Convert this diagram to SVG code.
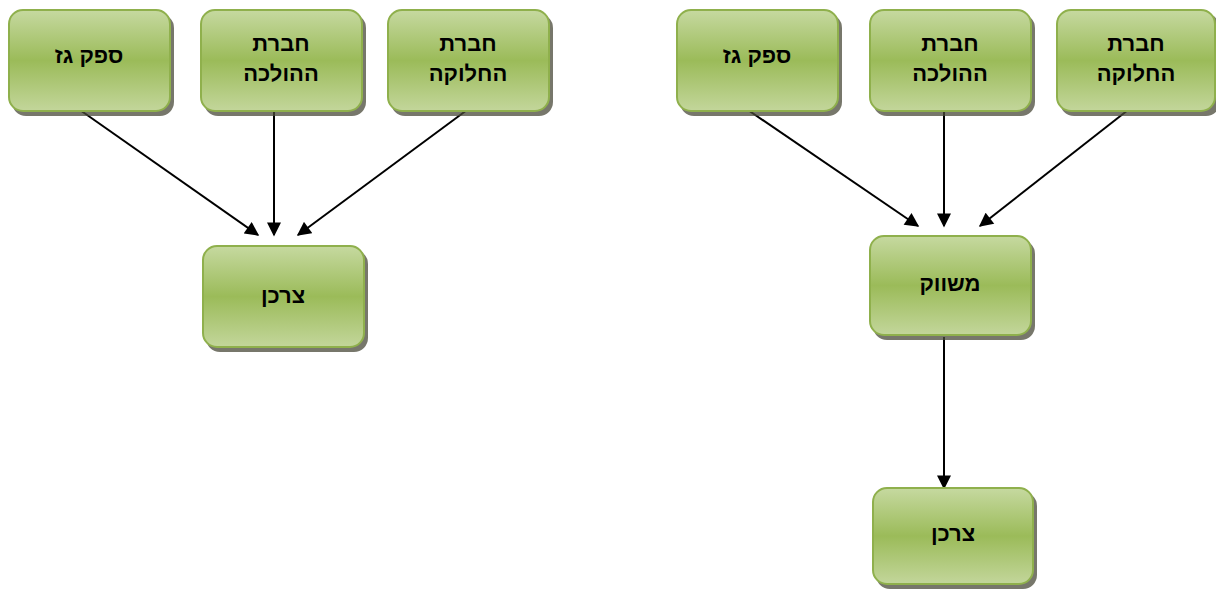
<svg xmlns="http://www.w3.org/2000/svg" width="1216" height="591" viewBox="0 0 1216 591">
<defs>
<linearGradient id="g" x1="0" y1="0" x2="0" y2="1">
<stop offset="0" stop-color="#c6d9a0"/>
<stop offset="0.5" stop-color="#9bbb59"/>
<stop offset="1" stop-color="#c3d69b"/>
</linearGradient>
<marker id="ah" viewBox="0 0 10 10" refX="9" refY="5" markerWidth="7.5" markerHeight="7" orient="auto" markerUnits="strokeWidth">
<path d="M0,0 L10,5 L0,10 z" fill="#000"/>
</marker>
</defs>
<style>
.sh{fill:#4a4a3a;opacity:0.75}
.bx{fill:url(#g);stroke:#8fb04c;stroke-width:2}
.t{font-family:"Liberation Sans","DejaVu Sans",Arial,sans-serif;font-weight:bold;font-size:22px;fill:#000;text-anchor:middle;direction:rtl}
.c{stroke:#000;stroke-width:2;fill:none;marker-end:url(#ah)}
</style>
<rect width="1216" height="591" fill="#fff"/>
<g id="connectors">
<line class="c" x1="80" y1="110" x2="258" y2="235"/>
<line class="c" x1="274" y1="112" x2="274" y2="235"/>
<line class="c" x1="467" y1="110" x2="298" y2="235"/>
<line class="c" x1="748" y1="110" x2="918" y2="226"/>
<line class="c" x1="944" y1="110" x2="944" y2="226"/>
<line class="c" x1="1128" y1="110" x2="980" y2="226"/>
<line class="c" x1="944" y1="337" x2="944" y2="488"/>
</g>
<g id="n1">
<rect class="sh" x="12" y="14" width="162" height="102" rx="14"/>
<rect class="bx" x="9" y="10" width="161" height="101" rx="14"/>
<text class="t" x="89" y="63">ספק גז</text>
</g>
<g id="n2">
<rect class="sh" x="204" y="14" width="162" height="102" rx="14"/>
<rect class="bx" x="201" y="10" width="161" height="101" rx="14"/>
<text class="t" x="281" y="51">חברת</text>
<text class="t" x="281" y="81">ההולכה</text>
</g>
<g id="n3">
<rect class="sh" x="391" y="14" width="162" height="102" rx="14"/>
<rect class="bx" x="388" y="10" width="161" height="101" rx="14"/>
<text class="t" x="468" y="51">חברת</text>
<text class="t" x="468" y="81">החלוקה</text>
</g>
<g id="n4">
<rect class="sh" x="206" y="250" width="162" height="102" rx="14"/>
<rect class="bx" x="203" y="246" width="161" height="101" rx="14"/>
<text class="t" x="283" y="303">צרכן</text>
</g>
<g id="n5">
<rect class="sh" x="680" y="14" width="162" height="102" rx="14"/>
<rect class="bx" x="677" y="10" width="161" height="101" rx="14"/>
<text class="t" x="757" y="63">ספק גז</text>
</g>
<g id="n6">
<rect class="sh" x="873" y="14" width="162" height="102" rx="14"/>
<rect class="bx" x="870" y="10" width="161" height="101" rx="14"/>
<text class="t" x="950" y="51">חברת</text>
<text class="t" x="950" y="81">ההולכה</text>
</g>
<g id="n7">
<rect class="sh" x="1060" y="14" width="160" height="102" rx="14"/>
<rect class="bx" x="1057" y="10" width="158" height="101" rx="14"/>
<text class="t" x="1136" y="51">חברת</text>
<text class="t" x="1136" y="81">החלוקה</text>
</g>
<g id="n8">
<rect class="sh" x="873" y="240" width="162" height="100" rx="14"/>
<rect class="bx" x="870" y="236" width="161" height="99" rx="14"/>
<text class="t" x="950" y="291">משווק</text>
</g>
<g id="n9">
<rect class="sh" x="876" y="492" width="161" height="97" rx="14"/>
<rect class="bx" x="873" y="488" width="160" height="96" rx="14"/>
<text class="t" x="953" y="541">צרכן</text>
</g>
</svg>
